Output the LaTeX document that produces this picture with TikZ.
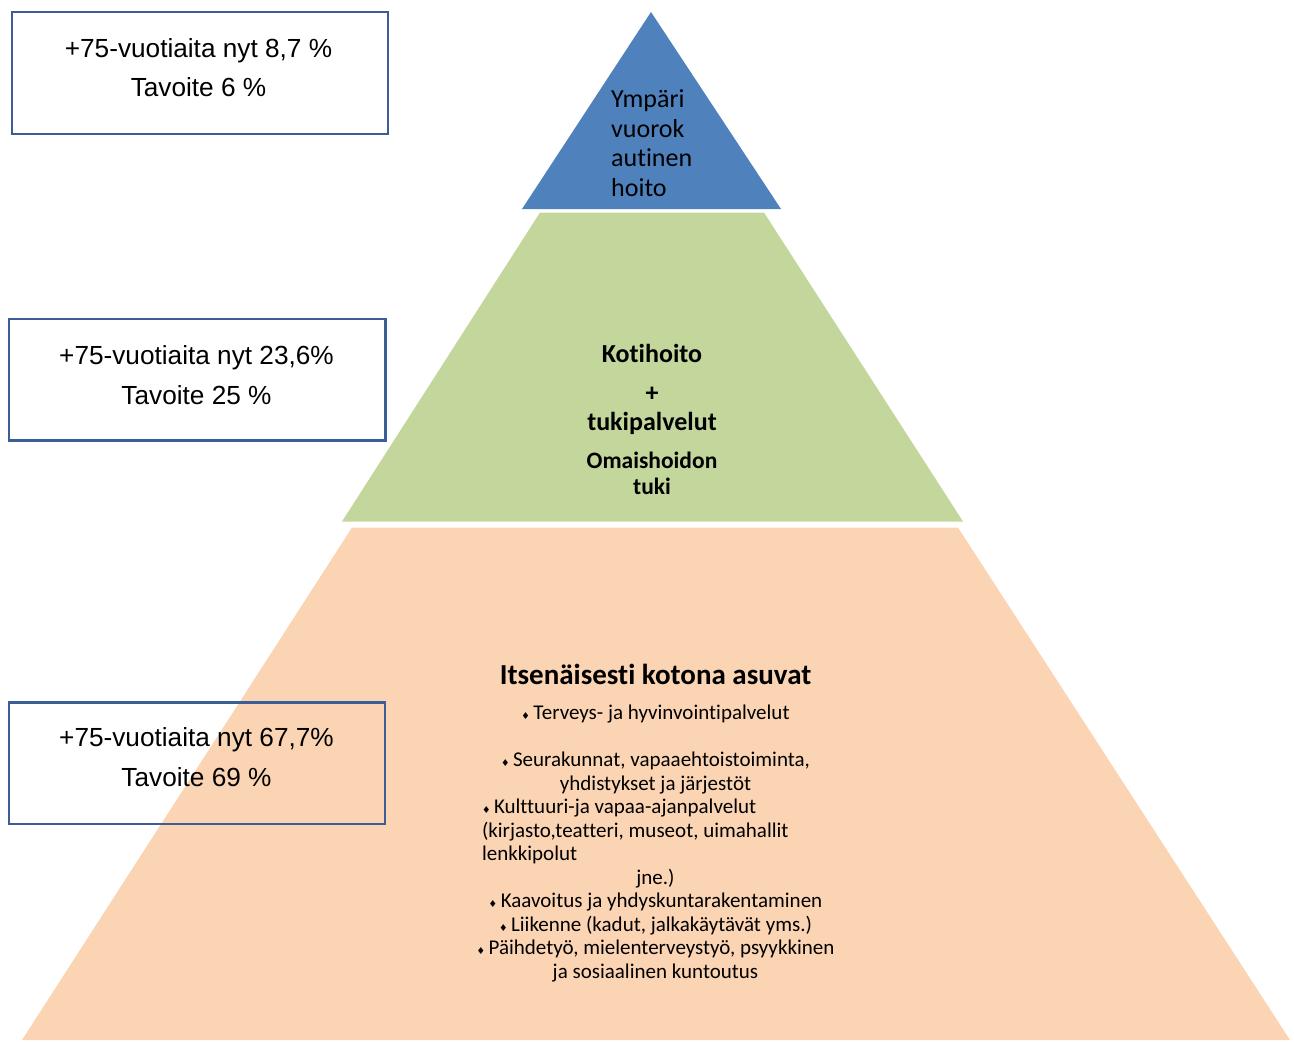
\documentclass[tikz,border=0pt]{standalone}
\usepackage{fontspec}
\setmainfont{Carlito}[Ligatures=NoCommon]
\newfontfamily\boxfont{Liberation Sans}
\newfontfamily\symfont{DejaVu Sans}
\definecolor{topblue}{HTML}{4F81BD}
\definecolor{midgreen}{HTML}{C3D69B}
\definecolor{basepeach}{HTML}{FBD4B4}
\definecolor{boxblue}{HTML}{3B5E96}
\newcommand{\dia}{{\symfont\fontsize{9.5}{9.5}\selectfont ♦}\,}

\begin{document}
\begin{tikzpicture}[x=1pt,y=-1pt,
    ratiobox/.style={draw=boxblue,line width=2.4pt},
    ratiotext/.style={font=\boxfont\fontsize{26.2}{39.5}\selectfont,align=center,inner sep=0pt,anchor=base},
    toptext/.style={font=\fontsize{26}{29.5}\selectfont,align=left,inner sep=0pt,anchor=base west},
    midtext/.style={font=\bfseries\fontsize{26}{28}\selectfont,align=center,inner sep=0pt,anchor=base},
    basetitle/.style={font=\bfseries\fontsize{29}{31}\selectfont,inner sep=0pt,anchor=base},
    basetext/.style={font=\fontsize{21}{23.5}\selectfont,align=center,inner sep=0pt,anchor=base}]
		\useasboundingbox (0,0) rectangle (1294,1042);
		
		%%%%% pyramid %%%%%
		\fill[topblue] (651,12) -- (781,209) -- (522,209) -- cycle;
		\fill[midgreen] (540,212.5) -- (764,212.5) -- (963,521.5) -- (342,521.5) -- cycle;
		\fill[basepeach] (352,527.5) -- (958,527.5) -- (1290,1040) -- (22,1040) -- cycle;
		
		% multi-line nodes sit on the baseline of their last line
		\node[toptext] (round) at (611,196) {Ympäri\\vuorok\\autinen\\hoito};
		
		\node[midtext] (kotihoito) at (652,362) {Kotihoito};
		\node[midtext] (plus) at (652,401) {+};
		\node[midtext] (tuki) at (652,430) {tukipalvelut};
		\node[midtext,font=\bfseries\fontsize{23.5}{25.5}\selectfont] (omais) at (652,494) {Omaishoidon\\tuki};
		
		\node[basetitle] (itse) at (655.5,684) {Itsenäisesti kotona asuvat};
		\node[basetext] (palvelut) at (655.5,978) {\dia Terveys- ja hyvinvointipalvelut\\[23.5pt]
			\dia Seurakunnat, vapaaehtoistoiminta,\\
			yhdistykset ja järjestöt\\
			\makebox[347pt][l]{\dia Kulttuuri-ja vapaa-ajanpalvelut}\\
			\makebox[347pt][l]{(kirjasto,teatteri, museot, uimahallit}\\
			\makebox[347pt][l]{lenkkipolut}\\
			jne.)\\
			\dia Kaavoitus ja yhdyskuntarakentaminen\\
			\dia Liikenne (kadut, jalkakäytävät yms.)\\
			\dia Päihdetyö, mielenterveystyö, psyykkinen\\
			ja sosiaalinen kuntoutus};
		
		%%%%% ratio boxes %%%%%
		\draw[ratiobox] (12,12) rectangle (388,134);
		\node[ratiotext] (now1) at (198.5,96.7) {+75-vuotiaita nyt 8,7 \%\\Tavoite 6 \%};
		
		\draw[ratiobox] (9,319) rectangle (385.5,440.5);
		\node[ratiotext] (now2) at (196.5,404) {+75-vuotiaita nyt 23,6\%\\Tavoite 25 \%};
		
		\draw[ratiobox] (9,702.5) rectangle (385,824);
		\node[ratiotext] (now3) at (196.5,786) {+75-vuotiaita nyt 67,7\%\\Tavoite 69 \%};
		
\end{tikzpicture}
\end{document}
